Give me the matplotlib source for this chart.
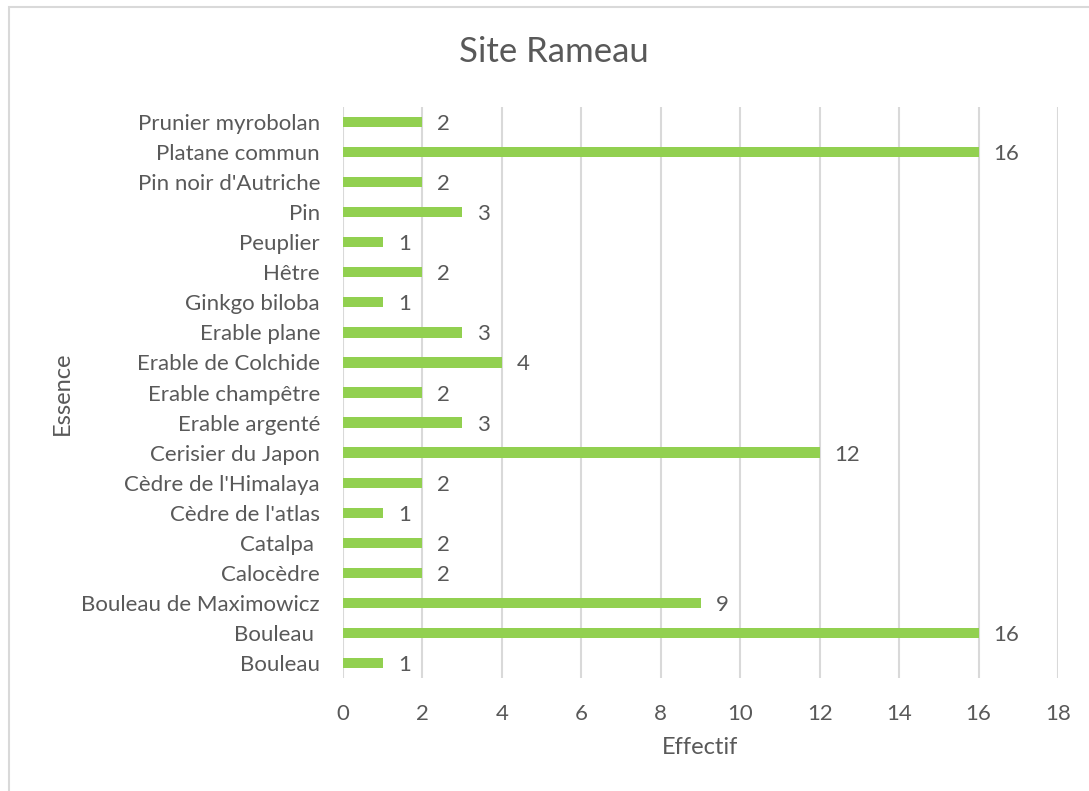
import matplotlib
matplotlib.use("Agg")
import matplotlib.pyplot as plt
from matplotlib.patches import Rectangle

categories = ["Bouleau", "Bouleau ", "Bouleau de Maximowicz", "Calocèdre", "Catalpa ",
              "Cèdre de l'atlas", "Cèdre de l'Himalaya", "Cerisier du Japon",
              "Erable argenté", "Erable champêtre", "Erable de Colchide", "Erable plane",
              "Ginkgo biloba", "Hêtre", "Peuplier", "Pin", "Pin noir d'Autriche",
              "Platane commun", "Prunier myrobolan"]
values = [1, 16, 9, 2, 2, 1, 2, 12, 3, 2, 4, 3, 1, 2, 1, 3, 2, 16, 2]
xticks = [0, 2, 4, 6, 8, 10, 12, 14, 16, 18]

TEXT = "#595959"
GREEN = "#92D050"
GRID = "#D9D9D9"
plt.rcParams['font.family'] = ['Lato', 'DejaVu Sans']

W, H = 1089, 791
fig = plt.figure(figsize=(W / 100, H / 100), dpi=100)
fig.patches.append(Rectangle((9 / W, -0.1), 1.2, (H - 7) / H + 0.1, transform=fig.transFigure,
                             fill=False, edgecolor=GRID, linewidth=1.5))

ax = fig.add_axes([343 / W, (H - 678) / H, (1058 - 343) / W, (678 - 107) / H])
y = list(range(len(categories)))
ax.barh(y, values, height=0.34, color=GREEN, zorder=3)
ax.set_xlim(0, 18)
ax.set_ylim(-0.5, len(categories) - 0.5)
ax.set_xticks(xticks)
ax.set_xticklabels([str(t) for t in xticks])
ax.set_yticks(y)
ax.set_yticklabels(categories)
ax.tick_params(axis='both', length=0, labelsize=16, colors=TEXT)
ax.tick_params(axis='y', pad=16.5)
ax.tick_params(axis='x', pad=18.5)
for s in ax.spines.values():
    s.set_visible(False)
ax.grid(axis='x', color=GRID, linewidth=1.5, zorder=0)
ax.set_axisbelow(True)

for yi, v in zip(y, values):
    ax.annotate(str(v), (v, yi), xytext=(15, -2), textcoords='offset pixels',
                va='center', ha='left', fontsize=16, color=TEXT)

fig.text(700 / W, 1 - 748 / H, "Effectif", ha='center', va='center', fontsize=17, color=TEXT)
fig.text(62 / W, 1 - 393 / H, "Essence", ha='center', va='center', fontsize=17, color=TEXT,
         rotation=90)
fig.text(554 / W, 1 - 52 / H, "Site Rameau", ha='center', va='center', fontsize=25, color=TEXT)

fig.savefig("out.png", dpi=100, facecolor="white")
